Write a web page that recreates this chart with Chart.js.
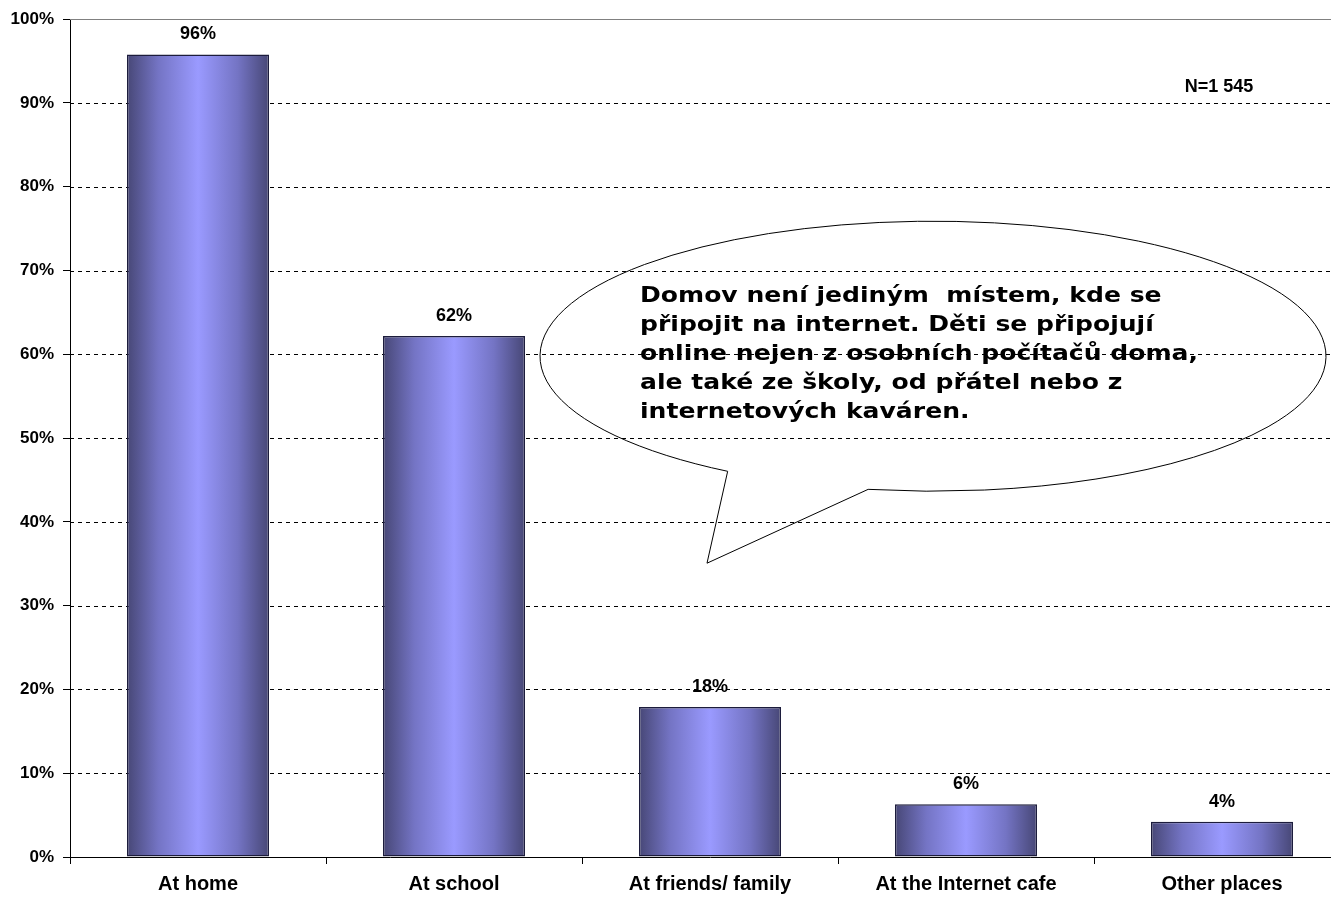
<!DOCTYPE html>
<html>
<head>
<meta charset="utf-8">
<script src="https://cdn.jsdelivr.net/npm/chart.js@4/dist/chart.umd.min.js"></script>
<style>
  html, body { margin: 0; padding: 0; background: #fff; overflow: hidden; }
</style>
</head>
<body>
<canvas id="grafico" width="1350" height="897"></canvas>
<script>
const categorias = ['At home', 'At school', 'At friends/ family', 'At the Internet cafe', 'Other places'];
const valores = [95.8, 62.2, 17.9, 6.3, 4.2];
const etiquetas = ['96%', '62%', '18%', '6%', '4%'];
const notaN = 'N=1 545';
const textoBurbuja = [
    'Domov není jediným  místem, kde se',
    'připojit na internet. Děti se připojují',
    'online nejen z osobních počítačů doma,',
    'ale také ze školy, od přátel nebo z',
    'internetových kaváren.'
];

const fuenteNormal = '"Liberation Sans", Arial, sans-serif';

function degradado(context) {
    const chart = context.chart;
    const area = chart.chartArea;
    if (!area) return '#9999ff';
    const x = chart.scales.x;
    const i = context.dataIndex;
    const centro = x.getPixelForValue(i);
    const ancho = (area.right - area.left) / categorias.length * 0.555;
    const g = chart.ctx.createLinearGradient(centro - ancho / 2, 0, centro + ancho / 2, 0);
    g.addColorStop(0, '#474776');
    g.addColorStop(0.22, '#7474c4');
    g.addColorStop(0.5, '#9a9aff');
    g.addColorStop(0.78, '#7474c4');
    g.addColorStop(1, '#474776');
    return g;
}

// lineas punteadas detras de las barras
const lineasFondo = {
    id: 'lineasFondo',
    beforeDatasetsDraw(chart) {
        const ctx = chart.ctx;
        const y = chart.scales.y;
        const area = chart.chartArea;
        ctx.save();
        y.ticks.forEach(t => {
            if (t.value === 0) return;
            const py = Math.round(y.getPixelForValue(t.value)) + 0.5;
            ctx.beginPath();
            if (t.value === 100) {
                ctx.setLineDash([]);
                ctx.strokeStyle = '#808080';
            } else {
                ctx.setLineDash([4, 4]);
                ctx.strokeStyle = '#000';
            }
            ctx.lineWidth = 1;
            ctx.moveTo(area.left, py);
            ctx.lineTo(area.right, py);
            ctx.stroke();
        });
        ctx.restore();
    }
};

// etiquetas de valores, nota N y burbuja
const extras = {
    id: 'extras',
    afterDatasetsDraw(chart) {
        const ctx = chart.ctx;
        const area = chart.chartArea;
        const meta = chart.getDatasetMeta(0);
        ctx.save();
        ctx.fillStyle = '#000';
        ctx.font = 'bold 18px ' + fuenteNormal;
        ctx.textAlign = 'center';
        ctx.textBaseline = 'middle';
        meta.data.forEach((bar, i) => {
            ctx.fillText(etiquetas[i], bar.x, bar.y - 20);
        });

        const y = chart.scales.y;
        ctx.fillText(notaN, area.left + 1149, y.getPixelForValue(91.9));

        // burbuja de comentario
        const cx = area.left + 863, cy = area.top + 337, rx = 393, ry = 135;
        const a1 = 121.5 * Math.PI / 180, a2 = (99.5 + 360) * Math.PI / 180;
        ctx.beginPath();
        ctx.ellipse(cx, cy, rx, ry, 0, a1, a2, false);
        ctx.lineTo(area.left + 637, area.top + 544);
        ctx.lineTo(cx + rx * Math.cos(a1), cy + ry * Math.sin(a1));
        ctx.strokeStyle = '#000';
        ctx.lineWidth = 1;
        ctx.stroke();

        ctx.font = 'bold 21px "DejaVu Sans", Verdana, sans-serif';
        ctx.textAlign = 'left';
        ctx.textBaseline = 'alphabetic';
        const sx = 558 / ctx.measureText(textoBurbuja[2]).width;
        const tx = area.left + 570;
        textoBurbuja.forEach((linea, i) => {
            ctx.save();
            ctx.translate(tx, area.top + 283 + i * 29);
            ctx.scale(sx, 1);
            ctx.fillText(linea, 0, 0);
            ctx.restore();
        });
        ctx.restore();
    }
};

const ctx = document.getElementById('grafico').getContext('2d');
const grafico = new Chart(ctx, {
    type: 'bar',
    data: {
        labels: categorias,
        datasets: [{
            data: valores,
            backgroundColor: degradado,
            borderColor: '#1c1c3c',
            borderWidth: 1.5,
            borderSkipped: false,
            barPercentage: 0.555,
            categoryPercentage: 1
        }]
    },
    options: {
        responsive: false,
        animation: false,
        layout: { padding: { top: 18, left: 0, right: 0, bottom: 0 } },
        plugins: {
            legend: { display: false },
            title: { display: false },
            tooltip: { enabled: false }
        },
        scales: {
            y: {
                min: 0,
                max: 100,
                ticks: {
                    stepSize: 10,
                    color: '#000',
                    font: { family: fuenteNormal, size: 17, weight: 'bold' },
                    padding: 9,
                    callback: function(value) {
                        return value + '%';
                    }
                },
                grid: { drawOnChartArea: false, drawTicks: true, tickLength: 7, color: '#000' },
                border: { display: true, color: '#000', width: 1 },
                afterFit: function(scale) { scale.width = 70; }
            },
            x: {
                ticks: {
                    color: '#000',
                    font: { family: fuenteNormal, size: 20, weight: 'bold' },
                    padding: 8
                },
                grid: { drawOnChartArea: false, drawTicks: true, tickLength: 7, color: '#000', offset: true },
                border: { display: true, color: '#000', width: 1 },
                afterFit: function(scale) { scale.height = 40; }
            }
        }
    },
    plugins: [lineasFondo, extras]
});
</script>
</body>
</html>
